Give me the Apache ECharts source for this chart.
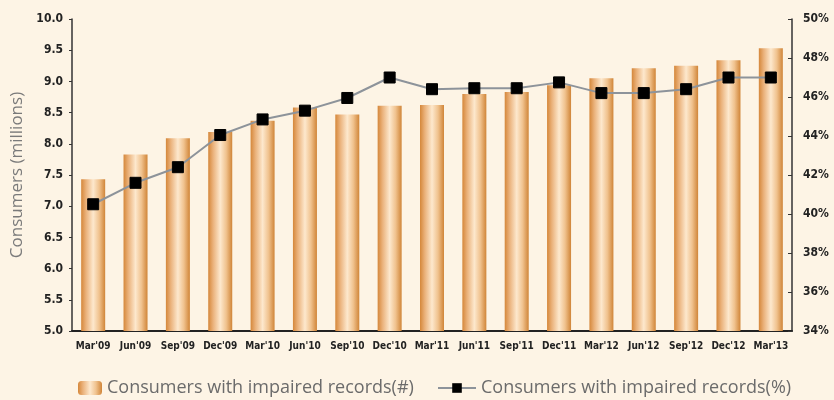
<!DOCTYPE html>
<html>
<head>
<meta charset="utf-8">
<script src="https://cdn.jsdelivr.net/npm/echarts@6/dist/echarts.min.js"></script>
<style>
html,body{margin:0;padding:0;background:#fdf4e5;}
#c{width:834px;height:400px;}
</style>
</head>
<body>
<div id="c"></div>
<script>
const categories = ["Mar'09","Jun'09","Sep'09","Dec'09","Mar'10","Jun'10","Sep'10","Dec'10","Mar'11","Jun'11","Sep'11","Dec'11","Mar'12","Jun'12","Sep'12","Dec'12","Mar'13"];
const consumersMillions = [7.43,7.83,8.09,8.19,8.37,8.58,8.47,8.61,8.62,8.80,8.83,8.94,9.05,9.21,9.25,9.34,9.53];
const consumersPct = [40.5,41.6,42.4,44.05,44.85,45.3,45.95,47.0,46.4,46.45,46.45,46.75,46.2,46.2,46.4,47.0,47.0];
const leftTicks = {min:5, max:10, interval:0.5};
const rightTicks = {min:34, max:50, interval:2};

const chart = echarts.init(document.getElementById('c'));
const barGrad = new echarts.graphic.LinearGradient(0,0,1,0,[
  {offset:0,color:'#d5873a'},
  {offset:0.2,color:'#eab17a'},
  {offset:0.5,color:'#fde8cd'},
  {offset:0.75,color:'#f0c28e'},
  {offset:1,color:'#d08538'}
]);
const axisFont = {fontFamily:'DejaVu Sans Condensed', fontWeight:'bold', color:'#222'};
chart.setOption({
  backgroundColor:'#fdf4e5',
  animation:false,
  grid:{left:72,right:42,top:19,bottom:69,containLabel:false},
  legend:[{
    data:['Consumers with impaired records(#)'],
    left:73, top:374, itemWidth:24, itemHeight:14, itemGap:10,
    textStyle:{fontFamily:'Open Sans', fontSize:18, color:'#6b6b6b'}
  },{
    data:['Consumers with impaired records(%)'],
    left:432, top:374, itemWidth:38, itemHeight:12,
    textStyle:{fontFamily:'Open Sans', fontSize:18, color:'#6b6b6b'}
  }],
  xAxis:{
    type:'category', data:categories, boundaryGap:true,
    axisLine:{lineStyle:{color:'#222',width:2}},
    axisTick:{show:false},
    axisLabel:Object.assign({fontSize:10, margin:10, interval:0}, axisFont)
  },
  yAxis:[{
    type:'value', min:leftTicks.min, max:leftTicks.max, interval:leftTicks.interval,
    name:'Consumers (millions)', nameLocation:'middle', nameGap:40,
    nameTextStyle:{fontFamily:'Open Sans', fontSize:17, color:'#7a7a7a'},
    axisLine:{show:true, lineStyle:{color:'#333',width:1.5}},
    axisTick:{show:true, length:3, lineStyle:{color:'#333'}},
    splitLine:{show:false},
    axisLabel:Object.assign({fontSize:12, margin:9, formatter:v=>v.toFixed(1)}, axisFont)
  },{
    type:'value', min:rightTicks.min, max:rightTicks.max, interval:rightTicks.interval,
    position:'right',
    axisLine:{show:true, lineStyle:{color:'#333',width:1.5}},
    axisTick:{show:true, inside:true, length:4, lineStyle:{color:'#333'}},
    splitLine:{show:false},
    axisLabel:Object.assign({fontSize:12, margin:11, formatter:v=>v+'%'}, axisFont)
  }],
  series:[{
    name:'Consumers with impaired records(#)',
    type:'bar', data:consumersMillions, barWidth:24, yAxisIndex:0,
    itemStyle:{color:barGrad}
  },{
    name:'Consumers with impaired records(%)',
    type:'line', data:consumersPct, yAxisIndex:1,
    symbol:'rect', symbolSize:11,
    lineStyle:{color:'#8d939a', width:2},
    itemStyle:{color:'#000', borderColor:'#000'}
  }]
});
</script>
</body>
</html>
